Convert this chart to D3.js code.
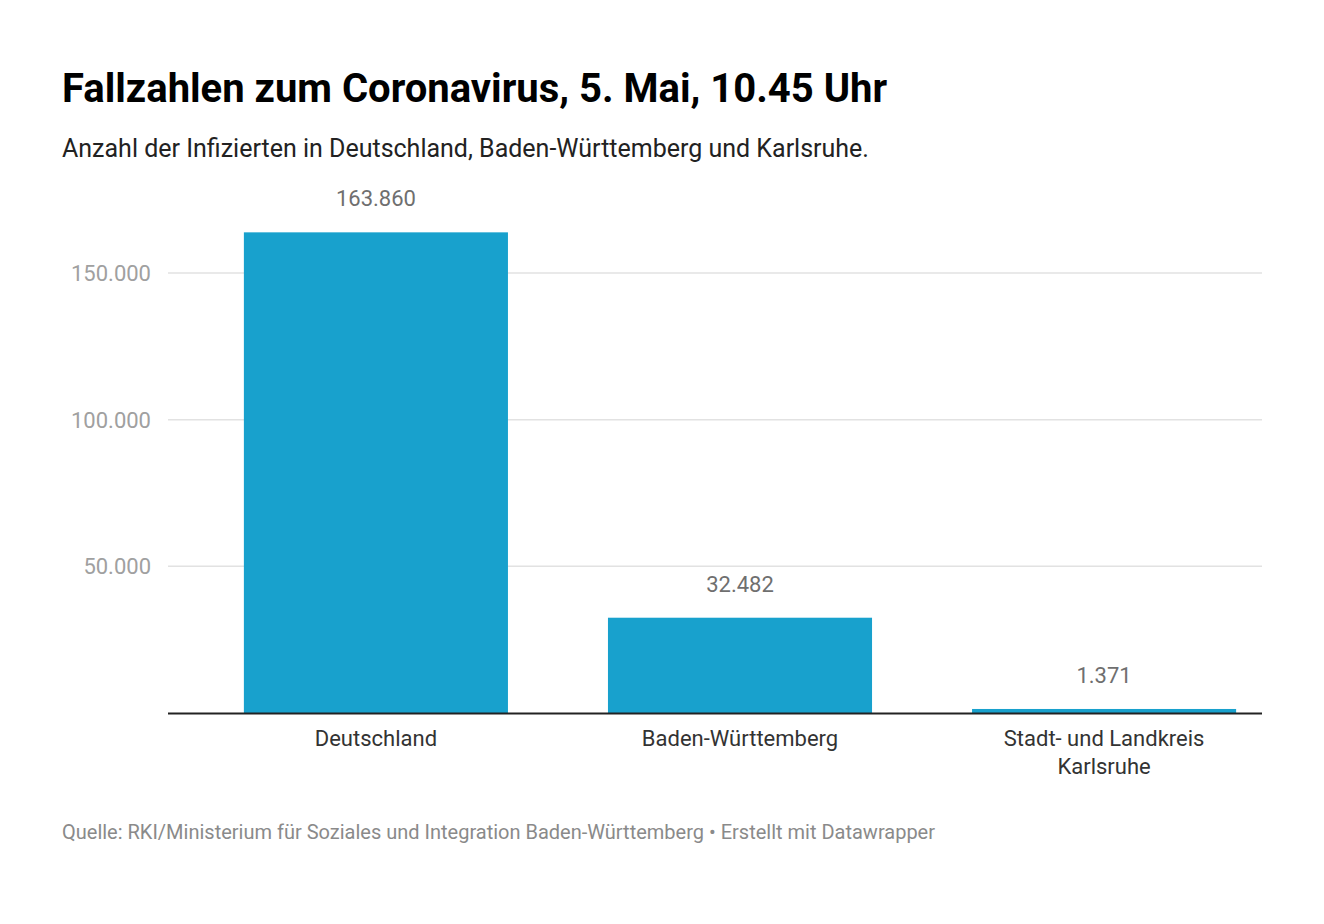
<html lang="de">
<head>
<script src="https://d3js.org/d3.v7.min.js"></script>
<style>
body { margin:0; background:#fff; font-family: Roboto, sans-serif; }
</style>
</head>
<body>
<svg id="chart" width="1324" height="924"></svg>
<script>
var categories = ["Deutschland", "Baden-Württemberg", "Stadt- und Landkreis|Karlsruhe"];
var values = [163860, 32482, 1371];
var tickValues = [50000, 100000, 150000];

var fmt = d3.formatLocale({decimal: ",", thousands: ".", grouping: [3], currency: ["", "€"]}).format(",");
var svg = d3.select("#chart");

svg.append("text").attr("x", 62).attr("y", 102)
  .style("font-size", "40px").style("font-weight", "bold").attr("fill", "#000")
  .text("Fallzahlen zum Coronavirus, 5. Mai, 10.45 Uhr");
svg.append("text").attr("x", 62).attr("y", 157)
  .style("font-size", "25px").attr("fill", "#222")
  .text("Anzahl der Infizierten in Deutschland, Baden-Württemberg und Karlsruhe.");

var y = d3.scaleLinear().domain([0, 150000]).range([713, 273]);
var x = d3.scaleBand().domain(categories).range([194, 1286]).paddingInner(0.2747).paddingOuter(0.137);

// grid
svg.selectAll(".grid").data(tickValues).enter().append("line")
  .attr("x1", 168).attr("x2", 1262)
  .attr("y1", d => y(d)).attr("y2", d => y(d))
  .attr("stroke", "#e2e2e2").attr("stroke-width", 1.5);
svg.selectAll(".tick").data(tickValues).enter().append("text")
  .attr("x", 151).attr("y", d => y(d) + 8)
  .attr("text-anchor", "end").style("font-size", "22px").attr("fill", "#a0a0a0")
  .text(d => fmt(d));

// bars
svg.selectAll(".bar").data(values).enter().append("rect")
  .attr("x", (d, i) => x(categories[i])).attr("width", x.bandwidth())
  .attr("y", d => Math.min(y(d), 710)).attr("height", d => 713 - Math.min(y(d), 710))
  .attr("fill", "#18a1cd");
svg.selectAll(".val").data(values).enter().append("text")
  .attr("x", (d, i) => x(categories[i]) + x.bandwidth() / 2)
  .attr("y", d => Math.min(y(d), 710) - 26)
  .attr("text-anchor", "middle").style("font-size", "22px").attr("fill", "#6f6f6f")
  .text(d => fmt(d));

svg.append("line").attr("x1", 168).attr("x2", 1262).attr("y1", 713.5).attr("y2", 713.5)
  .attr("stroke", "#222").attr("stroke-width", 2);

// category labels
categories.forEach(function(c) {
  var t = svg.append("text").attr("text-anchor", "middle")
    .style("font-size", "22px").attr("fill", "#333");
  c.split("|").forEach(function(line, j) {
    t.append("tspan").attr("x", x(c) + x.bandwidth() / 2).attr("y", 746 + j * 28).text(line);
  });
});

svg.append("text").attr("x", 62).attr("y", 839)
  .style("font-size", "20px").attr("fill", "#8a8a8a")
  .text("Quelle: RKI/Ministerium für Soziales und Integration Baden-Württemberg • Erstellt mit Datawrapper");
</script>
</body>
</html>
